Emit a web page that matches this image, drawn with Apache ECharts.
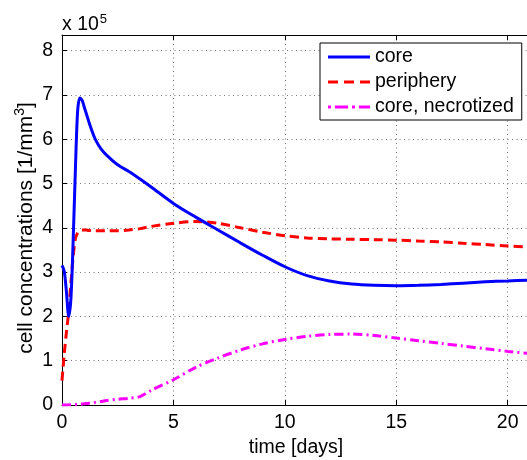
<!DOCTYPE html>
<html>
<head>
<meta charset="utf-8">
<script src="https://cdn.jsdelivr.net/npm/echarts@6/dist/echarts.min.js"></script>
<style>
html,body{margin:0;padding:0;background:#fff;}
#chart{width:527px;height:460px;}
</style>
</head>
<body>
<div id="chart"></div>
<script>
// time [days]
var timeDays = [0,0.1,0.2,0.3,0.4,0.5,0.6,0.7,0.8,0.9,1,1.1,1.2,1.35,1.5,1.75,2,2.5,3,3.5,4,5,6,7,8,9,10,11,12,13,14,15,16,17,18,19,20,21];
// values in units of 1e5 cells/mm^3
var core = [3.15,3.02,2.55,2.0,2.4,3.7,5.3,6.62,6.93,6.88,6.72,6.56,6.4,6.18,5.99,5.78,5.64,5.42,5.27,5.1,4.92,4.55,4.24,3.95,3.66,3.38,3.12,2.92,2.8,2.73,2.7,2.69,2.7,2.72,2.75,2.78,2.8,2.82];
var periphery = [0.55,1.15,1.65,2.1,2.75,3.35,3.75,3.88,3.93,3.95,3.95,3.95,3.94,3.94,3.93,3.93,3.93,3.93,3.95,3.98,4.03,4.1,4.14,4.1,4.0,3.9,3.82,3.77,3.75,3.74,3.73,3.72,3.7,3.68,3.65,3.62,3.59,3.56];
var necrotized = [0,0.001,0.002,0.003,0.004,0.005,0.008,0.012,0.017,0.022,0.03,0.034,0.04,0.05,0.06,0.08,0.1,0.13,0.15,0.19,0.33,0.57,0.85,1.06,1.24,1.38,1.48,1.55,1.59,1.6,1.57,1.51,1.45,1.39,1.33,1.27,1.21,1.16];
var seriesNames = ['core','periphery','core, necrotized'];
var xTicks = {min:0, max:21, interval:5};
var yTicks = {min:0, max:8.35, interval:1};

function pairs(vals){ return timeDays.map(function(t,i){ return [t, vals[i]]; }); }

var FONT = 'Liberation Sans, Arial, Helvetica, sans-serif';
var gridDots = {show:true, lineStyle:{color:'#777', width:1, type:[1,3.5]}};

// legend line samples (solid / dashed / dash-dot), 42 x 3
var iconSolid = 'path://M0,0h42v3h-42z';
var iconDash = 'path://M0,0h10v3h-10z M16,0h10v3h-10z M32,0h10v3h-10z';
var iconDashDot = 'path://M0,0h3v3h-3z M7,0h13v3h-13z M24,0h3v3h-3z M31,0h11v3h-11z';

var chart = echarts.init(document.getElementById('chart'), null, {renderer:'canvas'});
chart.setOption({
  animation:false,
  backgroundColor:'#fff',
  grid:{left:62, top:35, right:-3, bottom:55, containLabel:false, outerBoundsMode:'none'},
  xAxis:[{
    type:'value', min:xTicks.min, max:xTicks.max, interval:xTicks.interval,
    position:'bottom',
    name:'time [days]', nameLocation:'middle', nameGap:27,
    nameTextStyle:{fontFamily:FONT, fontSize:19.5, color:'#000'},
    axisLine:{show:true, onZero:false, lineStyle:{color:'#000', width:1}},
    axisTick:{show:true, inside:true, length:5, lineStyle:{color:'#000'}},
    axisLabel:{fontFamily:FONT, fontSize:19.5, color:'#000', margin:8, showMaxLabel:false},
    splitLine:gridDots
  },{
    type:'value', min:xTicks.min, max:xTicks.max, interval:xTicks.interval,
    position:'top',
    axisLine:{show:true, onZero:false, lineStyle:{color:'#000', width:1}},
    axisTick:{show:true, inside:true, length:5, lineStyle:{color:'#000'}},
    axisLabel:{show:false},
    splitLine:{show:false}
  }],
  yAxis:{
    type:'value', min:yTicks.min, max:yTicks.max, interval:yTicks.interval,
    axisLine:{show:true, onZero:false, lineStyle:{color:'#000', width:1}},
    axisTick:{show:true, inside:true, length:5, lineStyle:{color:'#000'}},
    axisLabel:{fontFamily:FONT, fontSize:19.5, color:'#000', margin:9, showMaxLabel:false},
    splitLine:gridDots
  },
  legend:{
    orient:'vertical', left:320, top:43,
    padding:[4,8,3,8], itemGap:5, itemWidth:42, itemHeight:3,
    backgroundColor:'#fff', borderColor:'#000', borderWidth:1,
    textStyle:{fontFamily:FONT, fontSize:19.5, color:'#000'},
    data:[
      {name:seriesNames[0], icon:iconSolid},
      {name:seriesNames[1], icon:iconDash},
      {name:seriesNames[2], icon:iconDashDot}
    ]
  },
  graphic:[{
    type:'text', left:62, top:13,
    style:{
      text:'{a|x 10}{s|5}',
      rich:{
        a:{fontFamily:FONT, fontSize:19.5, fill:'#000', verticalAlign:'bottom', lineHeight:22},
        s:{fontFamily:FONT, fontSize:13, fill:'#000', verticalAlign:'top', padding:[0,0,10,1], lineHeight:22}
      }
    }
  },{
    type:'text', x:25, y:228, rotation:Math.PI/2,
    style:{
      text:'{a|cell concentrations [1/mm}{s|3}{a|]}',
      align:'center', verticalAlign:'middle',
      rich:{
        a:{fontFamily:FONT, fontSize:21, fill:'#000', verticalAlign:'bottom', lineHeight:24},
        s:{fontFamily:FONT, fontSize:14, fill:'#000', verticalAlign:'top', padding:[0,0,9,0], lineHeight:24}
      }
    }
  }],
  series:[{
    name:seriesNames[0], type:'line', data:pairs(core), showSymbol:false, symbol:'none',
    smooth:0.3, lineStyle:{color:'#0000ff', width:3}, itemStyle:{color:'#0000ff'}, z:3
  },{
    name:seriesNames[1], type:'line', data:pairs(periphery), showSymbol:false, symbol:'none',
    smooth:0.3, lineStyle:{color:'#ff0000', width:3, type:[9,5]}, itemStyle:{color:'#ff0000'}, z:2
  },{
    name:seriesNames[2], type:'line', data:pairs(necrotized), showSymbol:false, symbol:'none',
    smooth:0.3, lineStyle:{color:'#ff00ff', width:3, type:[9,4,2,4]}, itemStyle:{color:'#ff00ff'}, z:2
  }]
});
</script>
</body>
</html>
